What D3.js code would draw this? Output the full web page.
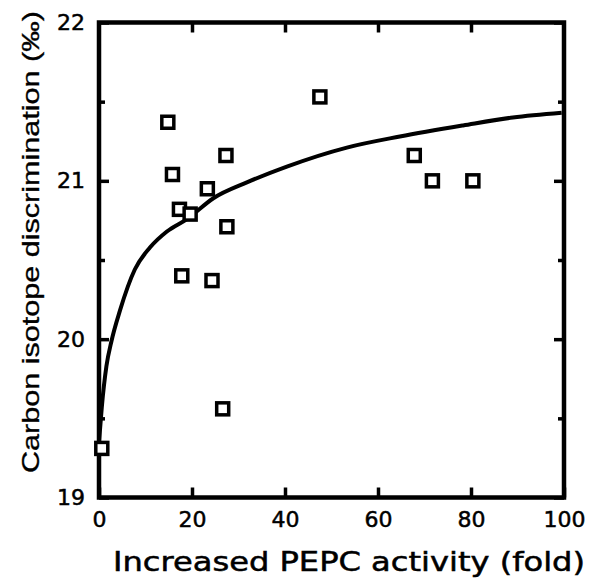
<!DOCTYPE html>
<html>
<head>
<meta charset="utf-8">
<script src="https://cdn.jsdelivr.net/npm/d3@7"></script>
<style>
  body { margin: 0; background: #fff; }
  svg { display: block; }
</style>
</head>
<body>
<svg id="chart" width="595" height="578"></svg>
<script>
// measured points (fold increase vs discrimination)
const pepcFold = [0.6, 14.8, 15.8, 17.3, 19.6, 17.8, 23.3, 24.3, 27.3, 27.5, 26.6, 47.5, 67.8, 71.7, 80.4];
const discrim = [19.31, 21.37, 21.04, 20.82, 20.79, 20.40, 20.95, 20.37, 21.16, 20.71, 19.56, 21.53, 21.16, 21.00, 21.00];

// fitted curve
const fitFold = [0, 0.6, 1.6, 2.7, 4.5, 7.7, 11, 14.6, 19, 24.6, 31.8, 40.4, 53.3, 64.7, 78.3, 89, 99.5];
const fitDiscrim = [19.35, 19.57, 19.83, 19.99, 20.18, 20.44, 20.58, 20.68, 20.76, 20.89, 20.99, 21.09, 21.21, 21.28, 21.35, 21.40, 21.43];

const xTicks = [0, 20, 40, 60, 80, 100];
const yTicks = [19, 20, 21, 22];
const yMinor = [19.5, 20.5, 21.5];

const svg = d3.select("#chart");
const margin = {left: 99, right: 31, top: 22.5, bottom: 80.5};
const width = 595 - margin.left - margin.right;
const height = 578 - margin.top - margin.bottom;
const tickFont = "'DejaVu Sans', sans-serif";

const x = d3.scaleLinear().domain([0, 100]).range([0, width]);
const y = d3.scaleLinear().domain([19, 22]).range([height, 0]);

const g = svg.append("g")
             .attr("transform", `translate(${margin.left},${margin.top})`);

// axes, ticks pointing inward
g.append("g")
    .attr("transform", `translate(0,${height})`)
    .call(d3.axisBottom(x).tickValues(xTicks).tickSizeInner(-10).tickSizeOuter(0).tickPadding(14));

g.append("g")
    .call(d3.axisTop(x).tickValues(xTicks.slice(1, -1)).tickSizeInner(-10).tickSizeOuter(0).tickFormat(""));

g.append("g")
    .call(d3.axisLeft(y).tickValues(yTicks).tickSizeInner(-10).tickSizeOuter(0).tickPadding(14).tickFormat(d3.format("d")));

g.append("g")
    .call(d3.axisLeft(y).tickValues(yMinor).tickSizeInner(-6).tickSizeOuter(0).tickFormat(""));

g.append("g")
    .attr("transform", `translate(${width},0)`)
    .call(d3.axisRight(y).tickValues(yTicks).tickSizeInner(-10).tickSizeOuter(0).tickFormat(""));

g.append("g")
    .attr("transform", `translate(${width},0)`)
    .call(d3.axisRight(y).tickValues(yMinor).tickSizeInner(-6).tickSizeOuter(0).tickFormat(""));

g.selectAll(".domain").remove();
g.selectAll(".tick line").attr("stroke", "#000").attr("stroke-width", 3.5);
g.selectAll(".tick text")
  .attr("fill", "#000")
  .attr("stroke", "#000")
  .attr("stroke-width", 0.5)
  .style("font-family", tickFont)
  .style("font-size", "22px");

// frame
g.append("rect")
  .attr("x", 0).attr("y", 0)
  .attr("width", width).attr("height", height)
  .attr("fill", "none")
  .attr("stroke", "#000")
  .attr("stroke-width", 4.5);

// fitted line
const line = d3.line()
               .x(d => x(d[0]))
               .y(d => y(d[1]))
               .curve(d3.curveMonotoneX);

g.append("path")
  .datum(d3.zip(fitFold, fitDiscrim))
  .attr("d", line)
  .attr("fill", "none")
  .attr("stroke", "#000")
  .attr("stroke-width", 4);

// open squares
const sq = 12;
g.selectAll("rect.pt")
  .data(d3.zip(pepcFold, discrim))
  .enter()
  .append("rect")
  .classed("pt", true)
  .attr("x", d => x(d[0]) - sq / 2)
  .attr("y", d => y(d[1]) - sq / 2)
  .attr("width", sq)
  .attr("height", sq)
  .attr("fill", "#fff")
  .attr("stroke", "#000")
  .attr("stroke-width", 3.5);

// axis titles
svg.append("text")
  .attr("x", 349)
  .attr("y", 571)
  .attr("text-anchor", "middle")
  .attr("textLength", 472)
  .attr("lengthAdjust", "spacingAndGlyphs")
  .attr("stroke", "#000")
  .attr("stroke-width", 0.5)
  .style("font-family", tickFont)
  .style("font-size", "26px")
  .text("Increased PEPC activity (fold)");

svg.append("text")
  .attr("transform", "translate(39,242) rotate(-90)")
  .attr("text-anchor", "middle")
  .attr("textLength", 462)
  .attr("lengthAdjust", "spacingAndGlyphs")
  .attr("stroke", "#000")
  .attr("stroke-width", 0.3)
  .style("font-family", "'Liberation Sans', Arial, sans-serif")
  .style("font-size", "24px")
  .text("Carbon isotope discrimination (‰)");
</script>
</body>
</html>
